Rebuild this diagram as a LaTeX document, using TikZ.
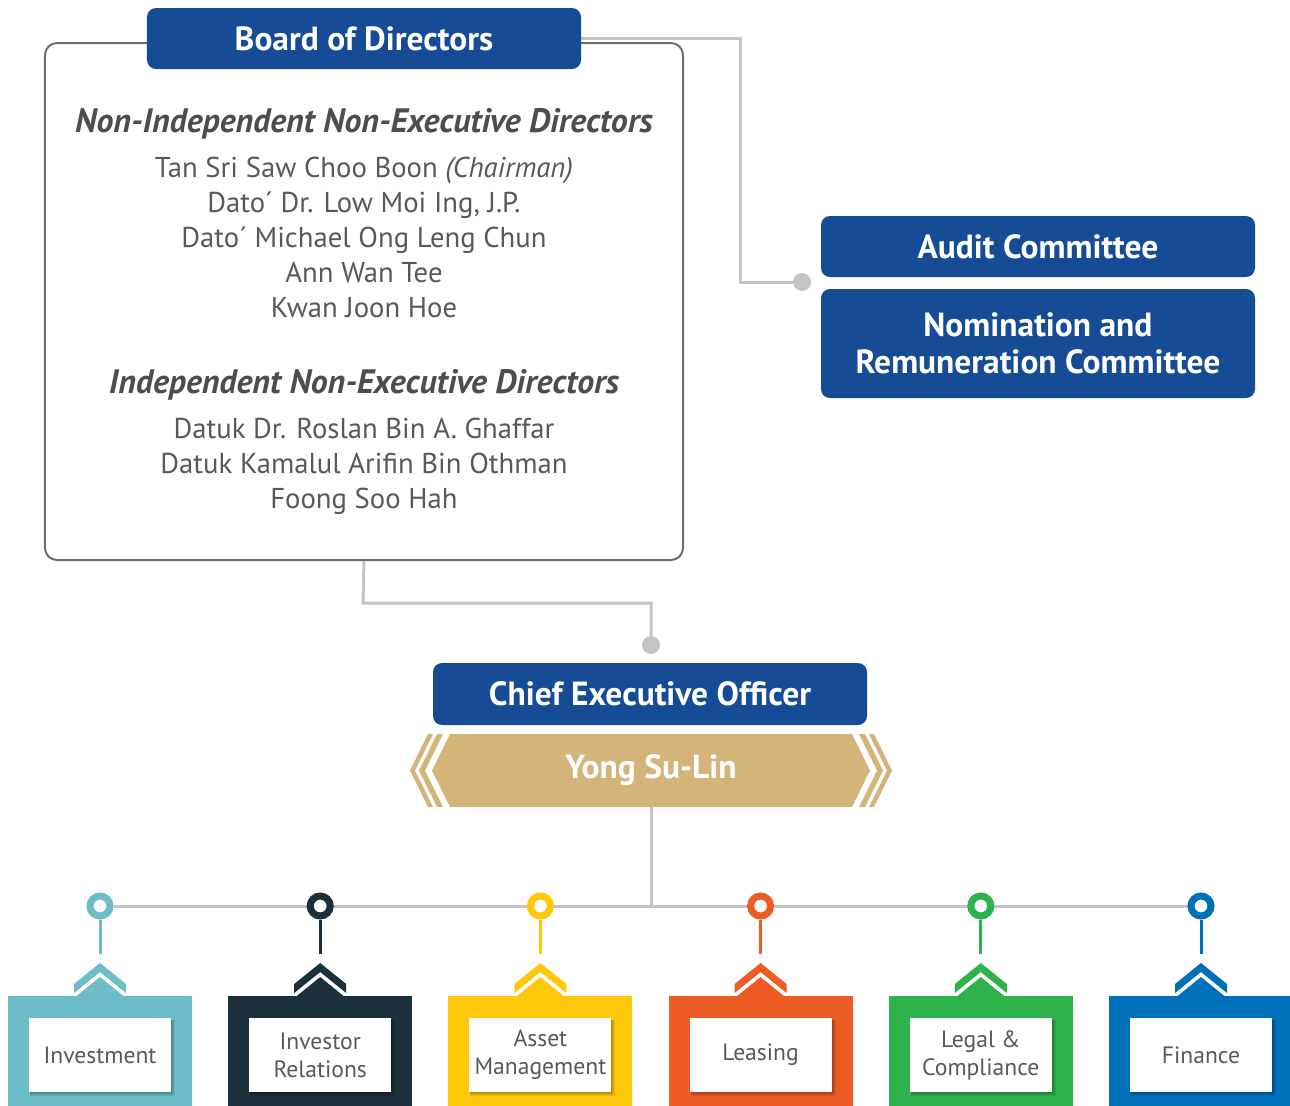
\documentclass[tikz,border=0pt]{standalone}
\usepackage{fontspec}
\setmainfont{PT Sans}
\usetikzlibrary{backgrounds}

\definecolor{hdrblue}{HTML}{164B95}
\definecolor{gold}{HTML}{D4B479}
\definecolor{conngray}{HTML}{C4C4C4}
\definecolor{framegray}{HTML}{6D6E71}
\definecolor{txtdark}{HTML}{4D4D4F}
\definecolor{txtgray}{HTML}{58595B}
\definecolor{cteal}{HTML}{6CBDC8}
\definecolor{cslate}{HTML}{1B303A}
\definecolor{cyellow}{HTML}{FFC80B}
\definecolor{corange}{HTML}{EE5C25}
\definecolor{cgreen}{HTML}{2EB24B}
\definecolor{cblue}{HTML}{0070BA}

\newcommand\fsz[2]{\fontsize{#1}{#2}\selectfont}

\begin{document}
\begin{tikzpicture}[x=1bp,y=-1bp,
  hdr/.style={fill=hdrblue, rounded corners=9bp, text=white,
    font=\bfseries\fsz{33.6}{37}, align=center, inner sep=0pt},
  frame/.style={draw=framegray, line width=2bp, rounded corners=12bp,
    fill=white, inner sep=0pt},
  cat/.style={anchor=base, text=txtdark, font=\bfseries\itshape\fsz{34}{36}, inner sep=0pt},
  member/.style={anchor=base, text=txtgray, font=\fsz{28.8}{35}, inner sep=0pt},
  conn/.style={draw=conngray, line width=3bp},
  enddot/.style={circle, fill=conngray, minimum size=18bp, inner sep=0pt},
  ring/.style={circle, draw=#1, line width=7bp, minimum size=20bp,
    inner sep=0pt, fill=white},
  deptbox/.style={minimum width=184bp, minimum height=110bp, inner sep=0pt},
  lblbox/.style={fill=white, minimum width=142bp, minimum height=74bp,
    inner sep=0pt, align=center, text=txtgray, font=\fsz{23.7}{28}},
  banner/.style={fill=gold, minimum width=402bp, minimum height=73bp,
    inner sep=0pt, text=white, font=\bfseries\fsz{33.6}{36}}
]
\useasboundingbox (0,0) rectangle (1290,1106);

% Board of Directors panel
\node[frame, minimum width=638bp, minimum height=517bp] (board) at (364,301.5) {};
\node[hdr, minimum width=434bp, minimum height=61bp] (bod) at (364,38.5) {Board of Directors};

\node[cat] (cat1) at (364,132) {Non-Independent Non-Executive Directors};
\node[member] (m1) at (364,177) {Tan Sri Saw Choo Boon \textit{(Chairman)}};
\node[member] (m2) at (364,212) {Dato´ Dr. Low Moi Ing, J.P.};
\node[member] (m3) at (364,247) {Dato´ Michael Ong Leng Chun};
\node[member] (m4) at (364,282) {Ann Wan Tee};
\node[member] (m5) at (364,317) {Kwan Joon Hoe};

\node[cat] (cat2) at (364,393) {Independent Non-Executive Directors};
\node[member] (m6) at (364,438) {Datuk Dr. Roslan Bin A. Ghaffar};
\node[member] (m7) at (364,473) {Datuk Kamalul Arifin Bin Othman};
\node[member] (m8) at (364,508) {Foong Soo Hah};

% Committees
\node[hdr, minimum width=434bp, minimum height=61bp] (audit) at (1038,246.5) {Audit Committee};
\node[hdr, minimum width=434bp, minimum height=109bp] (nrc) at (1038,343.5)
  {Nomination and\\Remuneration Committee};

\node[enddot] (dot1) at (802,282) {};
\node[enddot] (dot2) at (651,645) {};

% Chief Executive Officer
\node[hdr, minimum width=434bp, minimum height=62bp] (ceo) at (650,694) {Chief Executive Officer};

% Name banner with chevron stripes on both ends
\foreach \s in {1,-1}{
  \begin{scope}[xshift=651bp, yshift=-770.5bp, xscale=\s]
    \fill[gold] (-201,-36.5) -- (-219,0) -- (-201,36.5) -- cycle;
    \fill[gold] (-214,-36.5) -- (-208,-36.5) -- (-226,0) -- (-208,36.5)
                -- (-214,36.5) -- (-232,0) -- cycle;
    \fill[gold] (-223,-36.5) -- (-218,-36.5) -- (-236,0) -- (-218,36.5)
                -- (-223,36.5) -- (-241,0) -- cycle;
  \end{scope}
}
\node[banner] (ysl) at (651,770.5) {Yong Su-Lin};

% Departments
\foreach \i/\col/\txt in {1/cteal/Investment, 2/cslate/{Investor\\Relations},
    3/cyellow/{Asset\\Management}, 4/corange/Leasing,
    5/cgreen/{Legal \&\\Compliance}, 6/cblue/Finance}{
  \pgfmathsetmacro\xx{100+220.2*(\i-1)}
  \node[ring=\col] (ring\i) at (\xx,906) {};
  \draw[\col, line width=3bp] (ring\i.south) -- (\xx,954);
  \fill[\col] ({\xx-26},984) -- (\xx,963) -- ({\xx+26},984) -- ({\xx+26},993)
              -- (\xx,972) -- ({\xx-26},993) -- cycle;
  \fill[\col] ({\xx-24},996.5) -- (\xx,977) -- ({\xx+24},996.5) -- cycle;
  \node[deptbox, fill=\col] (dept\i) at (\xx,1051) {};
  \foreach \k in {1,...,4}
    \fill[black, opacity=0.08] ({\xx-70},1020) rectangle ({\xx+71+\k},{1092+\k});
  \node[lblbox] (lbl\i) at (\xx,1055) {\txt};
}

% Connectors
\coordinate (elbow1) at (740,282);
\coordinate (elbow2) at (363,603);
\begin{pgfonlayer}{background}
  \draw[conn] (bod.east) -| (elbow1) -- (dot1);
  \draw[conn] (board.south) -- (elbow2) -| (dot2);
  \draw[conn] (ysl.south) -- (ysl.south |- ring1);
  \draw[conn] (ring1) -- (ring6);
\end{pgfonlayer}
\end{tikzpicture}
\end{document}
